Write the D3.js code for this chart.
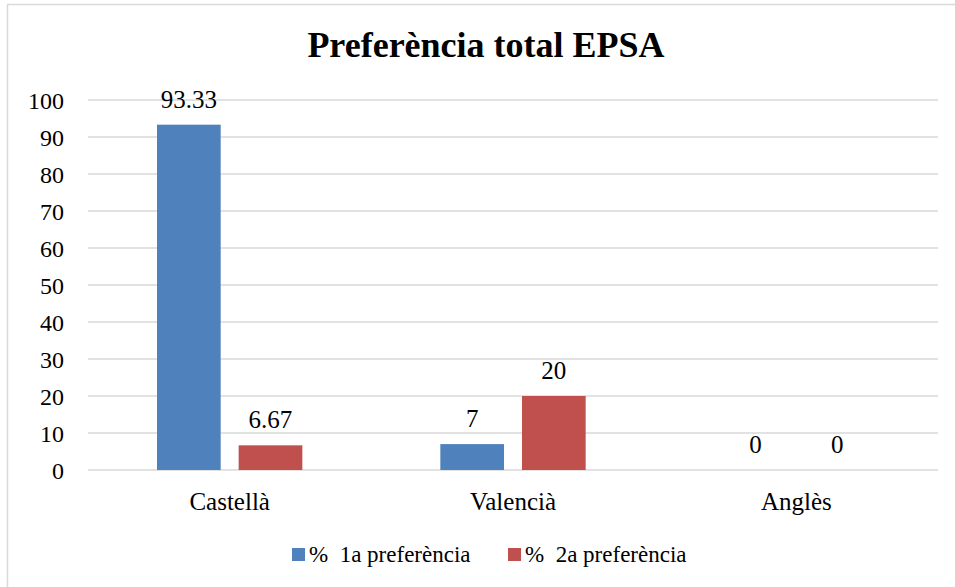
<!DOCTYPE html>
<html>
<head>
<meta charset="utf-8">
<script src="https://cdn.jsdelivr.net/npm/d3@7"></script>
<style>
    body { margin: 0; background: #fff; }
    svg text { font-family: "Liberation Serif", "Times New Roman", Times, serif !important; fill: #000; }
</style>
</head>
<body>
<div id="chart"></div>
<script>
// Chart data
const categories = ['Castellà', 'Valencià', 'Anglès'];
const seriesNames = ['% 1a preferència', '% 2a preferència'];
const firstPref = [93.33, 7, 0];
const secondPref = [6.67, 20, 0];
const yTicks = [0, 10, 20, 30, 40, 50, 60, 70, 80, 90, 100];
const title = 'Preferència total EPSA';

const colors = ['#4f81bd', '#c0504d'];
const serif = '"Liberation Serif", "Times New Roman", Times, serif';

const W = 955, H = 587;
const plot = { left: 88, right: 938, top: 100, bottom: 470 };

const svg = d3.select('#chart')
    .append('svg')
    .attr('width', W)
    .attr('height', H)
    .attr('font-family', serif);

// Outer chart border
svg.append('rect')
    .attr('x', 7.5)
    .attr('y', 4.5)
    .attr('width', 980)
    .attr('height', 620)
    .attr('fill', 'none')
    .attr('stroke', '#d9d9d9')
    .attr('stroke-width', 1.5);

// Title
svg.append('text')
    .attr('x', 486)
    .attr('y', 57)
    .attr('text-anchor', 'middle')
    .style('font-size', '36px')
    .style('font-weight', 'bold')
    .text(title);

// Scales
const x0 = d3.scaleBand()
    .domain(categories)
    .range([plot.left, plot.right]);

const x1 = d3.scaleBand()
    .domain(seriesNames)
    .range([69, x0.bandwidth() - 69])
    .paddingInner(0.22);

const y = d3.scaleLinear()
    .domain([0, 100])
    .range([plot.bottom, plot.top]);

// Gridlines
svg.append('g')
    .selectAll('line')
    .data(yTicks)
    .enter()
    .append('line')
    .attr('x1', plot.left)
    .attr('x2', plot.right)
    .attr('y1', d => y(d))
    .attr('y2', d => y(d))
    .attr('stroke', '#d9d9d9')
    .attr('stroke-width', 1.5);

// Y axis labels
const yAxis = svg.append('g')
    .attr('transform', `translate(${plot.left - 24},0)`)
    .call(d3.axisLeft(y).tickValues(yTicks).tickSize(0).tickPadding(0));
yAxis.attr('font-family', serif).attr('font-size', 24);
yAxis.select('.domain').remove();
yAxis.selectAll('text')
    .attr('fill', '#000')
    .attr('dy', '0.34em');

// X axis labels
const xAxis = svg.append('g')
    .attr('transform', `translate(0,${plot.bottom})`)
    .call(d3.axisBottom(x0).tickSize(0).tickPadding(0));
xAxis.attr('font-family', serif).attr('font-size', 25);
xAxis.select('.domain').remove();
xAxis.selectAll('text')
    .attr('fill', '#000')
    .attr('y', 40)
    .attr('dy', 0);

// Bars
const rows = categories.map((c, i) => ({
    category: c,
    values: [firstPref[i], secondPref[i]]
}));

const groups = svg.append('g')
    .selectAll('g')
    .data(rows)
    .enter()
    .append('g')
    .attr('transform', d => `translate(${x0(d.category)},0)`);

groups.selectAll('rect')
    .data(d => d.values.map((v, j) => ({ series: seriesNames[j], value: v, j })))
    .enter()
    .append('rect')
    .attr('x', d => x1(d.series))
    .attr('width', x1.bandwidth())
    .attr('y', d => y(d.value))
    .attr('height', d => y(0) - y(d.value))
    .attr('fill', d => colors[d.j]);

// Data labels
groups.selectAll('text.lbl')
    .data(d => d.values.map((v, j) => ({ series: seriesNames[j], value: v })))
    .enter()
    .append('text')
    .attr('class', 'lbl')
    .attr('x', d => x1(d.series) + x1.bandwidth() / 2)
    .attr('y', d => y(d.value) - 17)
    .attr('text-anchor', 'middle')
    .style('font-size', '25px')
    .text(d => d.value);

// Legend
const legendX = [292, 508];
const legend = svg.append('g');
seriesNames.forEach((name, i) => {
    legend.append('rect')
        .attr('x', legendX[i])
        .attr('y', 548)
        .attr('width', 13)
        .attr('height', 13)
        .attr('fill', colors[i]);
    legend.append('text')
        .attr('x', legendX[i] + 17)
        .attr('y', 562)
        .style('font-size', '23px')
        .style('white-space', 'pre')
        .text(name.replace(' ', '  '));
});
</script>
</body>
</html>
